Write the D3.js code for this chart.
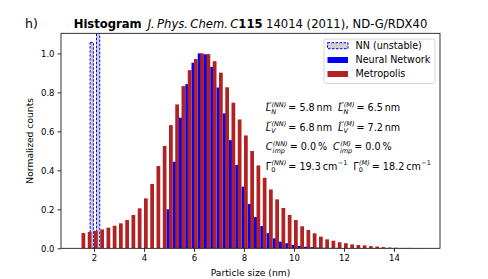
<!DOCTYPE html>
<html><head><meta charset="utf-8">
<script src="https://cdn.jsdelivr.net/npm/d3@7"></script>
<style>
body{margin:0;background:#fff}
svg{display:block}
text{font-family:'DejaVu Sans',sans-serif;fill:#000}
</style></head>
<body><svg id="c" width="488" height="279"></svg>
<script>
// ---- data ----
const binStart = [1.5,1.75,2.0,2.25,2.5,2.75,3.0,3.25,3.5,3.75,4.0,4.25,4.5,4.75,5.0,5.25,5.5,5.75,6.0,6.25,6.5,6.75,7.0,7.25,7.5,7.75,8.0,8.25,8.5,8.75,9.0,9.25,9.5,9.75,10.0,10.25,10.5,10.75,11.0,11.25,11.5,11.75,12.0,12.25,12.5,12.75,13.0,13.25,13.5,13.75,14.0,14.25,14.5,14.75,15.0];
const metropolis = [0.078,0.084,0.090,0.097,0.106,0.116,0.128,0.145,0.171,0.205,0.256,0.330,0.422,0.525,0.632,0.738,0.832,0.914,0.971,1.000,0.996,0.960,0.901,0.826,0.747,0.661,0.579,0.499,0.425,0.362,0.302,0.251,0.207,0.171,0.145,0.113,0.094,0.077,0.060,0.046,0.039,0.031,0.026,0.020,0.017,0.015,0.011,0.009,0.006,0.004,0.003,0.002,0.002,0.001,0.001];
const neuralNet = [0,0,0,0,0,0,0,0,0,0,0,0,0,0,0.200,0.444,0.670,0.842,0.952,1.000,0.995,0.931,0.825,0.692,0.555,0.427,0.316,0.227,0.160,0.114,0.078,0.051,0.034,0.026,0.017,0.012,0.008,0.006,0.004,0.003,0.002,0.002,0.001,0.001,0.001,0.001,0.001,0.001,0.001,0.001,0.001,0.001,0.001,0,0];
const unstableX = [1.91, 2.165];
const unstableY = [1.056, 1.30];
const xTicks = [2,4,6,8,10,12,14];
const yTicks = [0.0,0.2,0.4,0.6,0.8,1.0];
const legendLabels = ["NN (unstable)","Neural Network","Metropolis"];

// ---- layout ----
const svg = d3.select('#c');
const L = 61, R = 440, T = 33.3, B = 248.3;
const x = d3.scaleLinear().domain([0.68, 15.84]).range([L, R]);
const y = d3.scaleLinear().domain([0, 1.103]).range([B, T]);
const RED = '#b22222', BLUE = '#0000ff';
const barW = 0.15, blueOff = -0.1;

svg.append('defs').append('clipPath').attr('id','clip')
  .append('rect').attr('x',L).attr('y',T).attr('width',R-L).attr('height',B-T);
const plot = svg.append('g').attr('clip-path','url(#clip)');

// unstable
plot.selectAll('rect.un').data(unstableX).join('rect').attr('class','un')
  .attr('x', d => x(d - 0.065)).attr('width', x(0.13) - x(0))
  .attr('y', (d,i) => y(unstableY[i])).attr('height', (d,i) => y(0) - y(unstableY[i]))
  .attr('fill','#d0d0d0').attr('stroke',BLUE).attr('stroke-width',1).attr('stroke-dasharray','2.5,1.5');

// neural network
plot.selectAll('rect.nn').data(binStart).join('rect').attr('class','nn')
  .attr('x', d => x(d + blueOff)).attr('width', x(barW) - x(0))
  .attr('y', (d,i) => y(neuralNet[i])).attr('height', (d,i) => y(0) - y(neuralNet[i]))
  .attr('fill', BLUE);

// metropolis
plot.selectAll('rect.me').data(binStart).join('rect').attr('class','me')
  .attr('x', d => x(d)).attr('width', x(barW) - x(0))
  .attr('y', (d,i) => y(metropolis[i])).attr('height', (d,i) => y(0) - y(metropolis[i]))
  .attr('fill', RED);

// axes
const xa = svg.append('g').attr('transform',`translate(0,${B})`)
  .call(d3.axisBottom(x).tickValues(xTicks).tickFormat(d3.format('d')).tickSize(3.5).tickPadding(3));
const ya = svg.append('g').attr('transform',`translate(${L},0)`)
  .call(d3.axisLeft(y).tickValues(yTicks).tickFormat(d3.format('.1f')).tickSize(3.5).tickPadding(3));
[xa,ya].forEach(a => {
  a.select('.domain').remove();
  a.selectAll('line').attr('stroke','#000').attr('stroke-width',0.8);
  a.selectAll('text').style('font-family',"'DejaVu Sans',sans-serif").style('font-size','8.5px').attr('fill','#000');
});
svg.append('rect').attr('x',L).attr('y',T).attr('width',R-L).attr('height',B-T)
  .attr('fill','none').attr('stroke','#000').attr('stroke-width',0.8);

// axis labels
svg.append('text').attr('x',(L+R)/2).attr('y',275.5).attr('text-anchor','middle')
  .style('font-size','9.2px').text('Particle size (nm)');
svg.append('text').attr('transform',`translate(32.5,${(T+B)/2}) rotate(-90)`).attr('text-anchor','middle')
  .style('font-size','9.2px').text('Normalized counts');

// title
const title = svg.append('text').attr('x',(L+R)/2).attr('y',27.5).attr('text-anchor','middle').style('font-size','11.6px');
title.append('tspan').style('font-weight','bold').text('Histogram');
title.append('tspan').attr('dx',6).style('font-style','italic').text('J.\u2009Phys.\u2009Chem.\u2009C');
title.append('tspan').style('font-weight','bold').text('115');
title.append('tspan').attr('dx',3.5).text('14014 (2011), ND-G/RDX40');
svg.append('text').attr('x',25).attr('y',28).style('font-size','12.5px').text('h)');

// legend
const lg = svg.append('g');
lg.append('rect').attr('x',324).attr('y',39).attr('width',111).attr('height',44.5).attr('rx',2)
  .attr('fill','#fff').attr('fill-opacity',0.8).attr('stroke','#cccccc').attr('stroke-width',0.8);
const lgY = [45.7, 60, 74];
legendLabels.forEach((lab,i) => {
  const r = lg.append('rect').attr('x',327.5).attr('y',lgY[i]-3).attr('width',20.5).attr('height',6);
  if (i===0) r.attr('fill','#d0d0d0').attr('stroke',BLUE).attr('stroke-width',1).attr('stroke-dasharray','2.5,1.5');
  else r.attr('fill', i===1 ? BLUE : RED);
  lg.append('text').attr('x',355.5).attr('y',lgY[i]+3.4).style('font-size','9.6px').text(lab);
});

// math annotations: one <text> per line, tspans positioned absolutely
function measure(str, fs, it){
  const t = svg.append('text').style('font-size',fs+'px').style('font-style', it?'italic':'normal').text(str);
  const w = t.node().getComputedTextLength(); t.remove(); return w;
}
function mathLine(x0, yb, fs, atoms){
  let cx = x0;
  const g = svg.append('g');
  const txt = g.append('text').style('font-size',fs+'px');
  const sfs = fs*0.68;
  atoms.forEach(a => {
    if (a.gap) { cx += a.gap; return; }
    txt.append('tspan').attr('x',cx).attr('y',yb).style('font-size',fs+'px')
      .style('font-style', a.it ? 'italic' : 'normal').text(a.b);
    const bw = measure(a.b, fs, a.it);
    if (a.tilde) {
      const tx = cx + bw*0.62, ty = yb - fs*0.86, hw = fs*0.26, hh = fs*0.07;
      g.append('path').attr('d',`M${tx-hw},${ty+hh} C${tx-hw*0.5},${ty-hh*2.2} ${tx+hw*0.5},${ty+hh*2.2} ${tx+hw},${ty-hh}`)
        .attr('fill','none').attr('stroke','#000').attr('stroke-width',0.7);
    }
    cx += bw;
    let w = 0;
    if (a.sup) {
      txt.append('tspan').attr('x',cx+0.4).attr('y',yb-fs*0.47).style('font-size',sfs+'px')
        .style('font-style', a.supIt===false ? 'normal':'italic').text(a.sup);
      w = Math.max(w, measure(a.sup, sfs, a.supIt!==false)+0.4);
    }
    if (a.sub) {
      txt.append('tspan').attr('x',cx+0.2).attr('y',yb+fs*0.3).style('font-size',sfs+'px')
        .style('font-style', a.subIt===false ? 'normal':'italic').text(a.sub);
      w = Math.max(w, measure(a.sub, sfs, a.subIt!==false)+0.2);
    }
    cx += w;
  });
}
const fsA = 9.6;
mathLine(265.7, 111.3, fsA, [
  {b:'L',it:1,tilde:1,sub:'N',sup:'(NN)'},{gap:2},{b:'= 5.8\u2009nm'},{gap:6},
  {b:'L',it:1,tilde:1,sub:'N',sup:'(M)'},{gap:2},{b:'= 6.5\u2009nm'}]);
mathLine(265.7, 130.5, fsA, [
  {b:'L',it:1,tilde:1,sub:'V',sup:'(NN)'},{gap:2},{b:'= 6.8\u2009nm'},{gap:6},
  {b:'L',it:1,tilde:1,sub:'V',sup:'(M)'},{gap:2},{b:'= 7.2\u2009nm'}]);
mathLine(265.7, 150.2, fsA, [
  {b:'C',it:1,sub:'imp',sup:'(NN)'},{gap:2},{b:'= 0.0\u2009%'},{gap:6},
  {b:'C',it:1,sub:'imp',sup:'(M)'},{gap:2},{b:'= 0.0\u2009%'}]);
mathLine(265.7, 169.6, fsA, [
  {b:'\u0393',sub:'0',subIt:false,sup:'(NN)'},{gap:2},{b:'= 19.3\u2009cm',sup:'\u22121',supIt:false},{gap:6},
  {b:'\u0393',sub:'0',subIt:false,sup:'(M)'},{gap:2},{b:'= 18.2\u2009cm',sup:'\u22121',supIt:false}]);
</script></body></html>
